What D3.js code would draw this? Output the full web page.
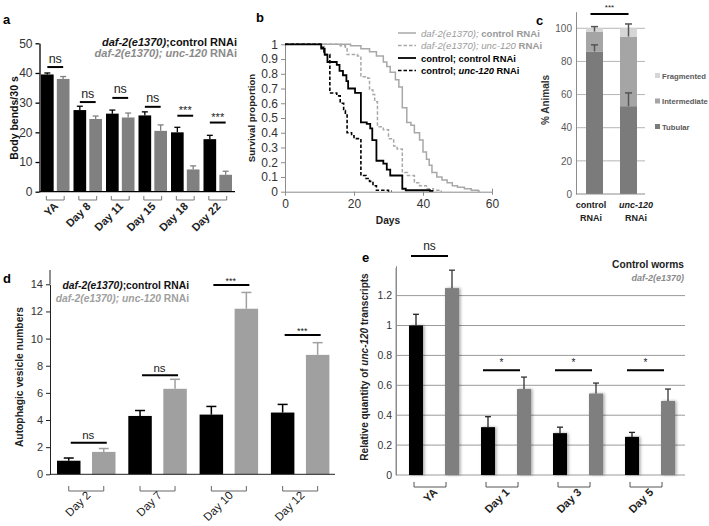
<!DOCTYPE html>
<html><head><meta charset="utf-8">
<script src="https://cdn.jsdelivr.net/npm/d3@7"></script>
<style>
html,body{margin:0;padding:0;background:#fff;}
svg{display:block;font-family:"Liberation Sans",Arial,sans-serif;}
</style></head><body>
<svg id="fig" width="709" height="526"></svg>
<script>
// ---------- Panel a data ----------
const aCats = ["YA","Day 8","Day 11","Day 15","Day 18","Day 22"];
const aCtrl = [39.5,27.5,26.3,25.7,20.0,17.7];
const aCtrlErr = [0.5,1.3,1.2,1.2,1.7,1.3];
const aUnc = [38.0,24.5,25.0,20.5,7.5,5.7];
const aUncErr = [0.8,1.0,1.5,2.0,1.2,1.2];
const aSigText = ["ns","ns","ns","ns","***","***"];
const aSigLevel = [42,30.2,31.6,28.6,25.6,23.3];
const aTicks = [0,10,20,30,40,50];

// ---------- Panel b data ([day, survival proportion]) ----------
const bTicksY = [0,0.1,0.2,0.3,0.4,0.5,0.6,0.7,0.8,0.9,1];
const bTicksX = [0,20,40,60];
const survDaf2Ctrl = [[0,1],[19,0.99],[22,0.97],[24.5,0.95],[26.5,0.92],[28.5,0.88],[29.5,0.85],[30.5,0.81],[32,0.76],[33,0.71],[34,0.57],[35.3,0.47],[36.5,0.45],[37.5,0.40],[39,0.35],[40,0.27],[41,0.22],[41.8,0.18],[42.6,0.13],[44,0.10],[45.5,0.08],[47,0.06],[48.5,0.04],[50,0.03],[52,0.02],[54,0.01],[56,0.004],[56.5,0.004]];
const survDaf2Unc = [[0,1],[16,0.99],[17.5,0.97],[18,0.93],[21,0.92],[22,0.78],[24,0.77],[24.5,0.69],[25.5,0.66],[26,0.61],[26.8,0.44],[28.5,0.42],[30,0.36],[31.5,0.31],[32.5,0.29],[34,0.13],[35.5,0.11],[37.5,0.06],[39,0.04],[41,0.02],[43,0.01],[45,0.003],[45.5,0.003]];
const survCtrlCtrl = [[0,1],[10.5,0.97],[11.5,0.93],[12.3,0.88],[15,0.86],[15.8,0.82],[16.8,0.79],[17.8,0.75],[18.3,0.70],[20.3,0.67],[22,0.47],[23.7,0.46],[24.7,0.43],[25.3,0.35],[26.5,0.21],[28.5,0.19],[29.5,0.15],[30.5,0.11],[34,0.02],[35,0.01],[42,0.005],[43,0.005]];
const survCtrlUnc = [[0,1],[10.3,0.98],[11.3,0.93],[13,0.67],[15,0.65],[16,0.60],[17,0.55],[17.5,0.52],[18,0.40],[19.3,0.38],[20,0.36],[22,0.11],[23.5,0.09],[24.5,0.07],[25.5,0.04],[26.5,0.01],[30,0.005],[31,0.005]];
const bLegend = ["daf2ctrl","daf2unc","ctrlctrl","ctrlunc"];

// ---------- Panel c data ----------
const cCats = ["control","unc-120"];
const cTubular = [86,53];
const cIntermediate = [12,42];
const cFragmented = [2,5];
const cTubErr = [4,8];
const cIntErr = [3,7.6];
const cTicks = [0,20,40,60,80,100];

// ---------- Panel d data ----------
const dCats = ["Day 2","Day 7","Day 10","Day 12"];
const dCtrl = [1.0,4.3,4.4,4.55];
const dCtrlErr = [0.2,0.4,0.6,0.6];
const dUnc = [1.65,6.3,12.2,8.8];
const dUncErr = [0.25,0.7,1.2,0.9];
const dSigText = ["ns","ns","***","***"];
const dSigLevel = [2.33,7.3,13.95,10.27];
const dTicks = [0,2,4,6,8,10,12,14];

// ---------- Panel e data ----------
const eCats = ["YA","Day 1","Day 3","Day 5"];
const eCtrl = [1.0,0.32,0.28,0.255];
const eCtrlErr = [0.075,0.07,0.04,0.03];
const eDaf2 = [1.25,0.575,0.545,0.495];
const eDaf2Err = [0.12,0.08,0.07,0.08];
const eSigText = ["ns","*","*","*"];
const eSigLevel = [1.465,0.70,0.70,0.70];
const eTicks = [0,0.2,0.4,0.6,0.8,1,1.2];

const FF = '"Liberation Sans",Arial,sans-serif';
const svg = d3.select("#fig");
const defs = svg.append("defs");
defs.append("filter").attr("id","sh").attr("x","-50%").attr("width","200%")
  .append("feDropShadow").attr("dx",1.5).attr("dy",0).attr("stdDeviation",1.4)
  .attr("flood-color","#000").attr("flood-opacity",0.35);

function styleAxis(g, color, fs, tcolor){
  g.attr("font-family",FF).attr("font-size",fs);
  g.selectAll("text").attr("fill",tcolor);
  g.selectAll("line,path").attr("stroke",color);
}
function label(g,x,y,t){
  g.append("text").attr("x",x).attr("y",y).attr("font-weight","bold").attr("font-size",13).text(t);
}
function errBar(g,x,y0,y1,color,cap,w){
  g.append("line").attr("x1",x).attr("x2",x).attr("y1",y0).attr("y2",y1).attr("stroke",color).attr("stroke-width",w||1.3);
  g.append("line").attr("x1",x-cap).attr("x2",x+cap).attr("y1",y1).attr("y2",y1).attr("stroke",color).attr("stroke-width",w||1.3);
}

// ================= Panel a =================
(function(){
  const g = svg.append("g");
  const x0 = d3.scaleBand().domain(aCats).range([39.5,234.5]);
  const x1 = d3.scaleBand().domain(["ctrl","unc"]).range([1.5,30]).paddingInner(0.2);
  const y = d3.scaleLinear().domain([0,50]).range([191.7,43.3]);
  const bw = x1.bandwidth();
  aCats.forEach((c,i)=>{
    const xc = x0(c)+x1("ctrl"), xu = x0(c)+x1("unc");
    g.append("rect").attr("x",xc).attr("y",y(aCtrl[i])).attr("width",bw).attr("height",y(0)-y(aCtrl[i])).attr("fill","#000");
    g.append("rect").attr("x",xu).attr("y",y(aUnc[i])).attr("width",bw).attr("height",y(0)-y(aUnc[i])).attr("fill","#808080");
    errBar(g,xc+bw/2,y(aCtrl[i]),y(aCtrl[i]+aCtrlErr[i]),"#000",3);
    errBar(g,xu+bw/2,y(aUnc[i]),y(aUnc[i]+aUncErr[i]),"#808080",3);
    const sy = y(aSigLevel[i]);
    g.append("line").attr("x1",xc+bw/2).attr("x2",xu+bw/2).attr("y1",sy).attr("y2",sy).attr("stroke","#000").attr("stroke-width",2);
    const isStar = aSigText[i].startsWith("*");
    g.append("text").attr("x",(xc+xu+bw)/2).attr("y",isStar?sy-1.5:sy-4.5).attr("text-anchor","middle")
      .attr("font-size",isStar?11:12.5).attr("fill","#222").text(aSigText[i]);
    const by = 200;
    g.append("path").attr("d",`M${xc+bw/2-1},${by-4}V${by}H${xu+bw/2+1}V${by-4}`).attr("fill","none").attr("stroke","#777").attr("stroke-width",1);
    const cx = x0(c)+x0.bandwidth()/2;
    g.append("text").attr("transform",`translate(${cx+3},${207}) rotate(-45)`).attr("text-anchor","end")
      .attr("font-size",11).attr("font-weight","bold").attr("fill","#222").text(c);
  });
  const ya = g.append("g").attr("transform","translate(39.5,0)").call(d3.axisLeft(y).tickValues(aTicks).tickSize(4).tickSizeOuter(0).tickPadding(3));
  styleAxis(ya,"#000",12,"#333"); ya.selectAll("line,path").attr("stroke-width",1.3);
  g.append("line").attr("x1",39.5).attr("x2",235).attr("y1",y(0)).attr("y2",y(0)).attr("stroke","#000").attr("stroke-width",1.3);
  g.append("text").attr("transform","translate(18,118) rotate(-90)").attr("text-anchor","middle").attr("font-size",10.5).attr("font-weight","bold").attr("fill","#111").text("Body bends/30 s");
  const l1 = g.append("text").attr("x",237).attr("y",45.5).attr("text-anchor","end").attr("font-size",11).attr("font-weight","bold").attr("fill","#111");
  l1.append("tspan").attr("font-style","italic").text("daf-2(e1370)"); l1.append("tspan").text(";control RNAi");
  const l2 = g.append("text").attr("x",237).attr("y",56.5).attr("text-anchor","end").attr("font-size",11).attr("font-weight","bold").attr("fill","#8a8a8a");
  l2.append("tspan").attr("font-style","italic").text("daf-2(e1370); unc-120"); l2.append("tspan").text(" RNAi");
  label(g,3,24,"a");
})();

// ================= Panel b =================
(function(){
  const g = svg.append("g");
  const x = d3.scaleLinear().domain([0,60]).range([285,492]);
  const y = d3.scaleLinear().domain([0,1]).range([191.7,44.3]);
  const ya = g.append("g").attr("transform","translate(285,0)").call(d3.axisLeft(y).tickValues(bTicksY).tickSize(4).tickSizeOuter(0).tickPadding(3).tickFormat(d=>String(+d.toFixed(1))));
  styleAxis(ya,"#8c8c8c",12,"#333");
  const xa = g.append("g").attr("transform","translate(0,191.7)").call(d3.axisBottom(x).tickValues(bTicksX).tickSize(4).tickSizeOuter(0).tickPadding(4));
  styleAxis(xa,"#8c8c8c",12,"#333");
  xa.selectAll(".tick").filter(d=>d===60).select("line").attr("y1",-3).attr("y2",3);
  const line = d3.line().x(d=>x(d[0])).y(d=>y(d[1])).curve(d3.curveStepAfter);
  const series = [
    {data:survDaf2Ctrl, color:"#a8a8a8", dash:null, w:1.5},
    {data:survDaf2Unc, color:"#a8a8a8", dash:"3.5,2", w:1.5},
    {data:survCtrlCtrl, color:"#000", dash:null, w:1.8},
    {data:survCtrlUnc, color:"#000", dash:"3.5,2", w:1.6}
  ];
  series.forEach(s=>{
    g.append("path").attr("d",line(s.data)).attr("fill","none").attr("stroke",s.color).attr("stroke-width",s.w).attr("stroke-dasharray",s.dash);
  });
  const ly = [33,45.5,58,70.5];
  bLegend.forEach((k,i)=>{
    const s = series[i];
    g.append("line").attr("x1",398).attr("x2",416).attr("y1",ly[i]).attr("y2",ly[i]).attr("stroke",s.color).attr("stroke-width",s.w).attr("stroke-dasharray",s.dash);
  });
  const t1 = g.append("text").attr("x",421).attr("y",ly[0]+3.5).attr("font-size",9.6).attr("fill","#9a9a9a");
  t1.append("tspan").attr("font-style","italic").text("daf-2(e1370); "); t1.append("tspan").attr("font-weight","bold").text("control RNAi");
  const t2 = g.append("text").attr("x",421).attr("y",ly[1]+3.5).attr("font-size",9.6).attr("fill","#9a9a9a");
  t2.append("tspan").attr("font-style","italic").text("daf-2(e1370); unc-120 "); t2.append("tspan").attr("font-weight","bold").text("RNAi");
  g.append("text").attr("x",421).attr("y",ly[2]+3.5).attr("font-size",9.4).attr("font-weight","bold").attr("fill","#000").text("control; control RNAi");
  const t4 = g.append("text").attr("x",421).attr("y",ly[3]+3.5).attr("font-size",9.4).attr("font-weight","bold").attr("fill","#000");
  t4.append("tspan").text("control; "); t4.append("tspan").attr("font-style","italic").text("unc-120"); t4.append("tspan").text(" RNAi");
  g.append("text").attr("x",388).attr("y",224).attr("text-anchor","middle").attr("font-size",10.2).attr("font-weight","bold").attr("fill","#222").text("Days");
  g.append("text").attr("transform","translate(255,118) rotate(-90)").attr("text-anchor","middle").attr("font-size",9.6).attr("font-weight","bold").attr("fill","#222").text("Survival proportion");
  label(g,256,22,"b");
})();

// ================= Panel c =================
(function(){
  const g = svg.append("g");
  const x = d3.scaleBand().domain(cCats).range([577.5,645.5]).paddingInner(0.5).paddingOuter(0.25);
  const y = d3.scaleLinear().domain([0,110]).range([194,11.7]);
  cTicks.filter(t=>t>0).forEach(t=>{
    g.append("line").attr("x1",576).attr("x2",645).attr("y1",y(t)).attr("y2",y(t)).attr("stroke","#b5b5b5").attr("stroke-width",1);
  });
  const keys = ["Tubular","Intermediate","Fragmented"];
  const colors = {Tubular:"#7b7b7b",Intermediate:"#a5a5a5",Fragmented:"#d6d6d6"};
  const rows = cCats.map((c,i)=>({cat:c,Tubular:cTubular[i],Intermediate:cIntermediate[i],Fragmented:cFragmented[i]}));
  const stack = d3.stack().keys(keys)(rows);
  stack.forEach(layer=>{
    layer.forEach(d=>{
      g.append("rect").attr("x",x(d.data.cat)).attr("y",y(d[1])).attr("width",x.bandwidth()).attr("height",y(d[0])-y(d[1])).attr("fill",colors[layer.key]);
    });
  });
  cCats.forEach((c,i)=>{
    const cx = x(c)+x.bandwidth()/2;
    errBar(g,cx,y(cTubular[i]),y(cTubular[i]+cTubErr[i]),"#555",3.5,1.5);
    const top = cTubular[i]+cIntermediate[i];
    errBar(g,cx,y(top),y(top+cIntErr[i]),"#555",3.5,1.5);
  });
  const ya = g.append("g").attr("transform","translate(576,0)").call(d3.axisLeft(y).tickValues(cTicks).tickSize(0).tickSizeOuter(0).tickPadding(4));
  styleAxis(ya,"#8c8c8c",10,"#595959");
  g.append("line").attr("x1",576).attr("x2",645).attr("y1",y(0)).attr("y2",y(0)).attr("stroke","#8c8c8c");
  const x0c = x(cCats[0])+x.bandwidth()/2, x1c = x(cCats[1])+x.bandwidth()/2;
  g.append("line").attr("x1",x0c-4).attr("x2",x1c).attr("y1",14).attr("y2",14).attr("stroke","#000").attr("stroke-width",2);
  g.append("text").attr("x",(x0c+x1c)/2-2).attr("y",10).attr("text-anchor","middle").attr("font-size",8).attr("fill","#222").text("***");
  const lg = [["Fragmented",75.5],["Intermediate",101],["Tubular",126.5]];
  lg.forEach(([k,ly])=>{
    g.append("rect").attr("x",655).attr("y",ly-2.5).attr("width",5).attr("height",5).attr("fill",colors[k]);
    g.append("text").attr("x",662).attr("y",ly+3).attr("font-size",7.7).attr("font-weight","bold").attr("fill","#595959").text(k);
  });
  g.append("text").attr("transform","translate(549,100) rotate(-90)").attr("text-anchor","middle").attr("font-size",10).attr("font-weight","bold").attr("fill","#333").text("% Animals");
  const labs = [[591,"control",false],[636,"unc-120",true]];
  labs.forEach(([lx,t,it])=>{
    g.append("text").attr("x",lx).attr("y",208).attr("text-anchor","middle").attr("font-size",9).attr("font-weight","bold").attr("font-style",it?"italic":null).attr("fill","#222").text(t);
    g.append("text").attr("x",lx).attr("y",221).attr("text-anchor","middle").attr("font-size",9).attr("font-weight","bold").attr("fill","#222").text("RNAi");
  });
  label(g,536,25,"c");
})();

// ================= Panel d =================
(function(){
  const g = svg.append("g");
  const x0 = d3.scaleBand().domain(dCats).range([50,335.2]);
  const x1 = d3.scaleBand().domain(["ctrl","unc"]).range([7,65.5]).paddingInner(0.329);
  const y = d3.scaleLinear().domain([0,14]).range([474.3,284.3]);
  const bw = x1.bandwidth();
  dCats.forEach((c,i)=>{
    const xc = x0(c)+x1("ctrl"), xu = x0(c)+x1("unc");
    g.append("rect").attr("x",xc).attr("y",y(dCtrl[i])).attr("width",bw).attr("height",y(0)-y(dCtrl[i])).attr("fill","#000");
    g.append("rect").attr("x",xu).attr("y",y(dUnc[i])).attr("width",bw).attr("height",y(0)-y(dUnc[i])).attr("fill","#a0a0a0");
    errBar(g,xc+bw/2,y(dCtrl[i]),y(dCtrl[i]+dCtrlErr[i]),"#000",5,1.5);
    errBar(g,xu+bw/2,y(dUnc[i]),y(dUnc[i]+dUncErr[i]),"#a0a0a0",5,1.5);
    const sy = y(dSigLevel[i]);
    g.append("line").attr("x1",xc+bw/2+2).attr("x2",xu+bw/2+3).attr("y1",sy).attr("y2",sy).attr("stroke","#000").attr("stroke-width",2);
    const isStar = dSigText[i].startsWith("*");
    g.append("text").attr("x",(xc+xu+bw)/2+2).attr("y",isStar?sy-1:sy-3.5).attr("text-anchor","middle")
      .attr("font-size",isStar?9:11.5).attr("fill","#222").text(dSigText[i]);
    const by = 491;
    g.append("path").attr("d",`M${xc+bw/2},${by-5}V${by}H${xu+bw/2}V${by-5}`).attr("fill","none").attr("stroke","#666").attr("stroke-width",1);
    const cx = (xc+xu+bw)/2;
    g.append("text").attr("transform",`translate(${cx+5},${496}) rotate(-45)`).attr("text-anchor","end")
      .attr("font-size",11.5).attr("fill","#222").text(c);
  });
  const ya = g.append("g").attr("transform","translate(50,0)").call(d3.axisLeft(y).tickValues(dTicks).tickSize(4).tickSizeOuter(0).tickPadding(3));
  styleAxis(ya,"#222",11,"#333");
  g.append("line").attr("x1",50).attr("x2",50).attr("y1",270).attr("y2",y(14)).attr("stroke","#222");
  g.append("line").attr("x1",50).attr("x2",335).attr("y1",y(0)).attr("y2",y(0)).attr("stroke","#222");
  g.append("text").attr("transform","translate(23,377) rotate(-90)").attr("text-anchor","middle").attr("font-size",10.3).attr("font-weight","bold").attr("fill","#222").text("Autophagic vesicle numbers");
  const l1 = g.append("text").attr("x",189).attr("y",289).attr("text-anchor","end").attr("font-size",10.3).attr("font-weight","bold").attr("fill","#111");
  l1.append("tspan").attr("font-style","italic").text("daf-2(e1370)"); l1.append("tspan").text(";control RNAi");
  const l2 = g.append("text").attr("x",189).attr("y",301.5).attr("text-anchor","end").attr("font-size",10.3).attr("font-weight","bold").attr("fill","#a0a0a0");
  l2.append("tspan").attr("font-style","italic").text("daf-2(e1370); unc-120"); l2.append("tspan").text(" RNAi");
  label(g,3,283,"d");
})();

// ================= Panel e =================
(function(){
  const g = svg.append("g");
  const x0 = d3.scaleBand().domain(eCats).range([396,684]);
  const x1 = d3.scaleBand().domain(["ctrl","daf2"]).range([13,63]).paddingInner(0.611);
  const y = d3.scaleLinear().domain([0,1.4]).range([475,265.7]);
  const bw = x1.bandwidth();
  eTicks.forEach(t=>{
    g.append("line").attr("x1",396).attr("x2",685).attr("y1",y(t)).attr("y2",y(t)).attr("stroke","#9a9a9a").attr("stroke-width",1);
  });
  const ya = g.append("g").attr("transform","translate(396,0)").call(d3.axisLeft(y).tickValues(eTicks).tickSize(0).tickSizeOuter(0).tickPadding(4).tickFormat(d=>String(+d.toFixed(1))));
  styleAxis(ya,"#8c8c8c",10.5,"#333");
  g.append("line").attr("x1",396).attr("x2",396).attr("y1",268).attr("y2",475).attr("stroke","#8c8c8c");
  eCats.forEach((c,i)=>{
    const xc = x0(c)+x1("ctrl"), xu = x0(c)+x1("daf2");
    g.append("rect").attr("x",xc).attr("y",y(eCtrl[i])).attr("width",bw).attr("height",y(0)-y(eCtrl[i])).attr("fill","#000").attr("filter","url(#sh)");
    g.append("rect").attr("x",xu).attr("y",y(eDaf2[i])).attr("width",bw).attr("height",y(0)-y(eDaf2[i])).attr("fill","#7f7f7f").attr("filter","url(#sh)");
    errBar(g,xc+bw/2,y(eCtrl[i]),y(eCtrl[i]+eCtrlErr[i]),"#222",3,1.3);
    errBar(g,xu+bw/2,y(eDaf2[i]),y(eDaf2[i]+eDaf2Err[i]),"#333",3,1.3);
    const sy = y(eSigLevel[i]);
    const gs = x0(c);
    g.append("line").attr("x1",gs+15).attr("x2",gs+52).attr("y1",sy).attr("y2",sy).attr("stroke","#000").attr("stroke-width",2);
    const isStar = eSigText[i].startsWith("*");
    g.append("text").attr("x",gs+33.5).attr("y",isStar?sy-4:sy-5.5).attr("text-anchor","middle")
      .attr("font-size",isStar?10:12).attr("fill","#222").text(eSigText[i]);
    const by = 487;
    g.append("path").attr("d",`M${gs+18},${by-5}V${by}H${gs+50}V${by-5}`).attr("fill","none").attr("stroke","#555").attr("stroke-width",1);
    g.append("text").attr("transform",`translate(${gs+42},${493}) rotate(-45)`).attr("text-anchor","end")
      .attr("font-size",11).attr("font-weight","bold").attr("fill","#222").text(c);
  });
  const yl = g.append("text").attr("transform","translate(368,367) rotate(-90)").attr("text-anchor","middle").attr("font-size",10).attr("font-weight","bold").attr("fill","#222");
  yl.append("tspan").text("Relative quantity of "); yl.append("tspan").attr("font-style","italic").text("unc-120"); yl.append("tspan").text(" transcripts");
  g.append("text").attr("x",684).attr("y",268).attr("text-anchor","end").attr("font-size",10.2).attr("font-weight","bold").attr("fill","#222").text("Control worms");
  g.append("text").attr("x",684).attr("y",281).attr("text-anchor","end").attr("font-size",9).attr("font-weight","bold").attr("font-style","italic").attr("fill","#8a8a8a").text("daf-2(e1370)");
  label(g,362,262,"e");
})();
</script>
</body></html>
